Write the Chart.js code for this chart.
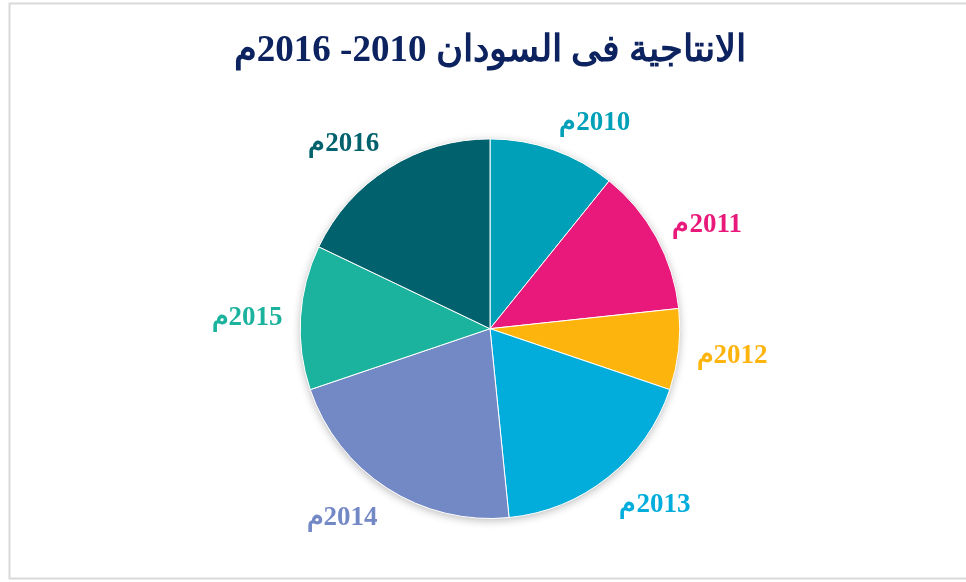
<!DOCTYPE html>
<html><head><meta charset="utf-8">
<script src="https://cdn.jsdelivr.net/npm/chart.js@4.4.0/dist/chart.umd.min.js"></script>
<style>html,body{margin:0;padding:0;background:#fff;overflow:hidden}#wrap{width:966px;height:582px;position:relative}canvas{direction:rtl}</style>
</head><body><div id="wrap"><canvas id="c"></canvas></div>
<script>
const titleText = 'الانتاجية فى السودان 2010- 2016م';
const categories = ['2010م', '2011م', '2012م', '2013م', '2014م', '2015م', '2016م'];
const values = [10.8, 12.5, 6.9, 18.2, 21.4, 12.3, 17.9];
const sliceColors = ['#00A0B8', '#E8197A', '#FDB50E', '#02ADDC', '#7389C6', '#1CB39E', '#01616D'];

const framePlugin = {
  id: 'frame',
  beforeDraw(chart) {
    const ctx = chart.ctx;
    ctx.save();
    ctx.fillStyle = '#ffffff';
    ctx.fillRect(0, 0, chart.width, chart.height);
    ctx.strokeStyle = '#d9d9d9';
    ctx.lineWidth = 2;
    ctx.strokeRect(9.5, 3.5, chart.width + 10, chart.height - 7);
    ctx.restore();
  }
};

const shadowPlugin = {
  id: 'pieShadow',
  beforeDatasetsDraw(chart) {
    const arc = chart.getDatasetMeta(0).data[0];
    if (!arc) return;
    const p = arc.getProps(['x', 'y', 'outerRadius'], true);
    const ctx = chart.ctx;
    ctx.save();
    ctx.shadowColor = 'rgba(0,0,0,0.28)';
    ctx.shadowBlur = 9;
    ctx.shadowOffsetX = 0;
    ctx.shadowOffsetY = 2;
    ctx.fillStyle = '#ffffff';
    ctx.beginPath();
    ctx.arc(p.x, p.y, p.outerRadius, 0, Math.PI * 2);
    ctx.fill();
    ctx.restore();
  }
};

const labelPlugin = {
  id: 'outLabels',
  afterDatasetsDraw(chart) {
    const meta = chart.getDatasetMeta(0);
    const ctx = chart.ctx;
    ctx.save();
    ctx.font = 'bold 27px "Liberation Serif", "Times New Roman", serif';
    ctx.direction = 'rtl';
    ctx.textAlign = 'center';
    ctx.textBaseline = 'middle';
    meta.data.forEach((arc, i) => {
      const p = arc.getProps(['x', 'y', 'startAngle', 'endAngle', 'outerRadius'], true);
      const mid = (p.startAngle + p.endAngle) / 2;
      const dx = Math.cos(mid), dy = Math.sin(mid);
      const text = categories[i];
      const w = ctx.measureText(text).width;
      const h = 28;
      const d = p.outerRadius + 18;
      const x = p.x + dx * d + Math.sign(dx) * w / 2;
      const y = p.y + dy * d + dy * h / 2 + 3;
      ctx.fillStyle = sliceColors[i];
      ctx.fillText(text, x, y);
    });
    ctx.restore();
  }
};

new Chart(document.getElementById('c'), {
  type: 'pie',
  data: {
    labels: categories,
    datasets: [{
      data: values,
      backgroundColor: sliceColors,
      borderColor: '#ffffff',
      borderWidth: 1
    }]
  },
  options: {
    responsive: true,
    maintainAspectRatio: false,
    animation: false,
    layout: { padding: { top: 8, bottom: 63, left: 100, right: 86 } },
    plugins: {
      legend: { display: false },
      tooltip: { enabled: false },
      title: {
        display: true,
        text: titleText,
        color: '#0D2360',
        font: { family: '"Liberation Serif", "Times New Roman", serif', size: 37, weight: 'bold' },
        padding: { top: 21, bottom: 65 }
      }
    }
  },
  plugins: [framePlugin, shadowPlugin, labelPlugin]
});
</script>
</body></html>
